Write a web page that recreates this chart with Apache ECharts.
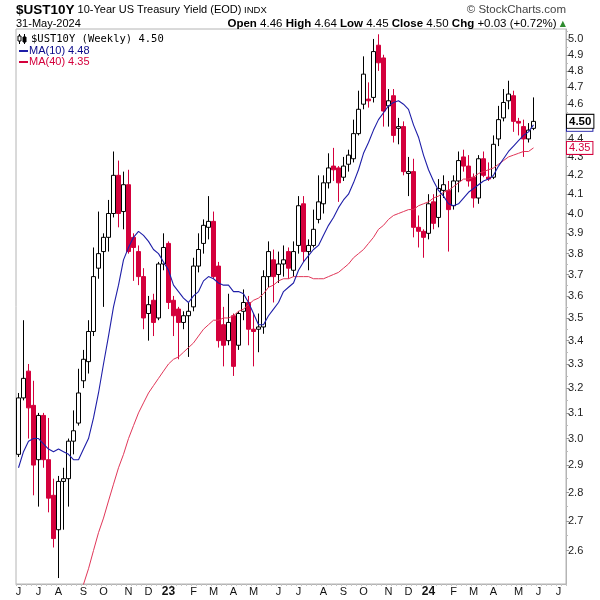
<!DOCTYPE html>
<html><head><meta charset="utf-8">
<script src="https://cdn.jsdelivr.net/npm/echarts@6/dist/echarts.min.js"></script>
<style>html,body{margin:0;padding:0;background:#fff}#c{width:600px;height:600px}</style>
</head><body><div id="c"></div>
<script>
// Weekly candles, first week ending 2022-06-10, last 2024-05-31 (104 weeks), axis runs 6 weeks further
const firstWeek = [2022, 5, 10];
const axisWeeks = 110;

const opens = [2.94,3.16,3.27,3.13,2.92,3.09,2.92,2.79,2.67,2.84, 2.85,2.99,3.06,3.23,3.31,3.44,3.73,3.81,3.88,4.00,
  4.20,4.01,4.15,3.88,3.81,3.69,3.52,3.58,3.50,3.75, 3.85,3.58,3.54,3.48,3.51,3.55,3.74,3.85,3.93,3.96,
  3.74,3.47,3.40,3.51,3.38,3.53,3.57,3.45,3.45,3.46, 3.69,3.77,3.70,3.75,3.81,3.72,3.84,4.05,3.81,3.84,
  3.97,4.05,4.16,4.25,4.24,4.19,4.26,4.29,4.43,4.60, 4.63,4.64,4.96,4.88,4.59,4.65,4.46,4.47,4.21,4.22,
  3.93,3.91,3.90,4.06,3.98,4.12,4.12,4.04,4.17,4.30, 4.25,4.19,4.08,4.29,4.19,4.19,4.40,4.52,4.62,4.65,
  4.50,4.47,4.40,4.46];
const highs = [3.18,3.49,3.30,3.23,3.10,3.10,3.08,2.85,2.86,2.89, 3.00,3.11,3.28,3.36,3.49,3.83,4.01,3.90,4.07,4.33,
  4.28,4.22,4.23,3.90,3.84,3.73,3.60,3.61,3.76,3.90, 3.86,3.60,3.55,3.53,3.57,3.78,3.90,3.97,4.09,4.01,
  3.76,3.55,3.61,3.52,3.53,3.63,3.60,3.52,3.52,3.72, 3.86,3.82,3.81,3.84,3.83,3.86,4.09,4.09,3.87,4.02,
  4.20,4.20,4.32,4.35,4.25,4.30,4.34,4.51,4.68,4.89, 4.73,5.00,5.03,4.90,4.69,4.69,4.52,4.50,4.30,4.29,
  3.99,3.92,4.10,4.10,4.18,4.20,4.17,4.20,4.33,4.34, 4.31,4.21,4.31,4.33,4.27,4.42,4.59,4.69,4.74,4.68,
  4.52,4.51,4.49,4.64];
const lows = [2.93,3.15,3.00,2.79,2.75,2.89,2.73,2.61,2.51,2.67, 2.75,2.94,3.05,3.20,3.26,3.42,3.68,3.55,3.81,3.98,
  3.93,3.92,3.80,3.67,3.65,3.45,3.40,3.42,3.49,3.72, 3.54,3.42,3.32,3.45,3.33,3.53,3.71,3.80,3.87,3.68,
  3.37,3.29,3.38,3.25,3.36,3.49,3.38,3.29,3.35,3.43, 3.64,3.57,3.66,3.69,3.68,3.69,3.80,3.76,3.72,3.83,
  3.95,4.00,4.13,4.17,4.06,4.17,4.22,4.27,4.42,4.57, 4.58,4.61,4.80,4.47,4.47,4.38,4.37,4.20,4.09,3.88,
  3.83,3.78,3.87,3.92,3.93,4.08,3.81,4.02,4.11,4.22, 4.14,4.03,4.05,4.19,4.17,4.18,4.36,4.50,4.57,4.44,
  4.42,4.30,4.38,4.45];
const closes = [3.16,3.24,3.12,2.90,3.09,2.92,2.78,2.64,2.84,2.85, 2.99,3.03,3.18,3.32,3.44,3.69,3.80,3.88,4.00,4.20,
  4.00,4.15,3.81,3.83,3.69,3.50,3.56,3.48,3.75,3.83, 3.57,3.51,3.48,3.51,3.53,3.74,3.82,3.94,3.96,3.69,
  3.40,3.38,3.48,3.29,3.52,3.57,3.45,3.44,3.46,3.69, 3.81,3.69,3.75,3.77,3.73,3.81,4.04,3.81,3.84,3.92,
  4.06,4.16,4.24,4.23,4.16,4.25,4.31,4.43,4.57,4.78, 4.62,4.92,4.85,4.56,4.62,4.42,4.47,4.22,4.22,3.93,
  3.91,3.88,4.05,3.95,4.13,4.15,4.02,4.17,4.28,4.25, 4.17,4.08,4.29,4.20,4.18,4.37,4.51,4.61,4.66,4.50,
  4.49,4.40,4.45,4.50];
const ma10 = [2.89,2.95,2.99,3.00,3.00,2.98,2.96,2.95,2.96,2.95, 2.94,2.92,2.92,2.96,3.00,3.08,3.18,3.30,3.42,3.55,
  3.65,3.77,3.83,3.88,3.91,3.89,3.86,3.82,3.80,3.76, 3.72,3.65,3.62,3.59,3.57,3.60,3.62,3.67,3.69,3.68,
  3.66,3.65,3.65,3.62,3.62,3.61,3.57,3.52,3.47,3.47, 3.51,3.54,3.57,3.62,3.64,3.66,3.72,3.76,3.79,3.82,
  3.84,3.89,3.94,3.98,4.03,4.07,4.10,4.16,4.23,4.32, 4.38,4.45,4.51,4.55,4.59,4.61,4.62,4.60,4.57,4.48,
  4.41,4.31,4.23,4.17,4.12,4.09,4.05,4.04,4.05,4.08, 4.11,4.13,4.15,4.17,4.18,4.20,4.25,4.29,4.33,4.36,
  4.39,4.42,4.44,4.48];
const ma40 = [null,null,null,null,null,null,null,null,null,null, null,2.38,2.43,2.49,2.54,2.60,2.66,2.71,2.77,2.83,
  2.89,2.94,3.00,3.05,3.10,3.14,3.18,3.21,3.24,3.27, 3.30,3.32,3.33,3.35,3.37,3.39,3.42,3.45,3.47,3.49,
  3.49,3.50,3.50,3.51,3.53,3.54,3.56,3.58,3.59,3.61, 3.64,3.65,3.67,3.68,3.68,3.69,3.69,3.69,3.69,3.68,
  3.68,3.68,3.69,3.70,3.71,3.73,3.75,3.78,3.80,3.82, 3.85,3.88,3.92,3.94,3.97,3.99,4.00,4.01,4.02,4.02,
  4.04,4.05,4.06,4.08,4.09,4.11,4.12,4.14,4.16,4.18, 4.18,4.19,4.21,4.22,4.23,4.24,4.26,4.28,4.30,4.31,
  4.32,4.33,4.33,4.35];

const yTickLabels = [2.6,2.7,2.8,2.9,3.0,3.1,3.2,3.3,3.4,3.5,3.6,3.7,3.8,3.9,4.0,4.1,4.2,4.3,4.4,4.5,4.6,4.7,4.8,4.9,5.0];
const yHiddenLabel = 4.5; // covered by the last-price box
const yRange = [2.491, 5.064];
const monthLabels = [
  ['2022-06-10','J'],['2022-07-08','J'],['2022-08-05','A'],['2022-09-09','S'],['2022-10-07','O'],['2022-11-11','N'],['2022-12-09','D'],
  ['2023-01-06','23'],['2023-02-10','F'],['2023-03-10','M'],['2023-04-07','A'],['2023-05-05','M'],['2023-06-09','J'],['2023-07-07','J'],
  ['2023-08-11','A'],['2023-09-08','S'],['2023-10-06','O'],['2023-11-10','N'],['2023-12-08','D'],
  ['2024-01-05','24'],['2024-02-09','F'],['2024-03-08','M'],['2024-04-05','A'],['2024-05-10','M'],['2024-06-07','J'],['2024-07-05','J']
];
const lastClose = 4.50, lastMa10 = 4.48, lastMa40 = 4.35;

const RED = '#d4003c', BLUE = '#1e1ea8', MA40C = '#e03658', FRAME = '#b4b4b4';
const L = v => Math.log10(v);

const categories = [];
const t0 = Date.UTC(firstWeek[0], firstWeek[1], firstWeek[2]);
for (let i = 0; i < axisWeeks; i++) categories.push(new Date(t0 + i * 7 * 86400000).toISOString().slice(0, 10));
const labelMap = {};
monthLabels.forEach(([d, t]) => { labelMap[d] = t; });

const candleData = opens.map((o, i) => [L(o), L(closes[i]), L(lows[i]), L(highs[i])]);
const ma10Data = ma10.map(v => v == null ? '-' : L(v));
const ma40Data = ma40.map(v => v == null ? '-' : L(v));
const yMinor = yTickLabels.map(v => +(v + 0.05).toFixed(2)).filter(v => v < yRange[1]);

const baseY = { type: 'value', position: 'right', min: L(yRange[0]), max: L(yRange[1]), scale: true,
  splitLine: { show: false }, axisLine: { show: false }, axisTick: { show: false } };
const FONT = 'Liberation Sans, Arial, sans-serif';

const chart = echarts.init(document.getElementById('c'), null, { renderer: 'canvas' });
chart.setOption({
  animation: false,
  backgroundColor: '#fff',
  grid: { left: 16, top: 29, width: 550, height: 555, show: true, borderColor: FRAME, borderWidth: 1,
    containLabel: false, outerBoundsMode: 'none' },
  xAxis: {
    type: 'category', data: categories, boundaryGap: true,
    axisLine: { lineStyle: { color: FRAME } },
    axisTick: { show: true, interval: 0, length: 2, lineStyle: { color: '#c4c4c4' } },
    axisLabel: {
      interval: (idx, val) => labelMap[val] !== undefined,
      formatter: val => { const t = labelMap[val] || ''; return t.length === 2 ? '{y|' + t + '}' : t; },
      fontSize: 11, fontFamily: FONT, color: '#111', margin: 2,
      rich: { y: { fontSize: 12, fontWeight: 'bold', fontFamily: FONT, color: '#111' } }
    },
    splitLine: { show: false }
  },
  yAxis: [
    Object.assign({}, baseY, {
      axisLine: { show: true, lineStyle: { color: FRAME } },
      axisTick: { show: true, length: 3, lineStyle: { color: '#999' }, customValues: yTickLabels.map(L) },
      axisLabel: { customValues: yTickLabels.filter(v => v !== yHiddenLabel).map(L),
        formatter: v => Math.pow(10, v).toFixed(1), fontSize: 11, fontFamily: FONT, color: '#222', margin: 2 }
    }),
    Object.assign({}, baseY, {
      axisTick: { show: true, length: 2, lineStyle: { color: '#bbb' }, customValues: yMinor.map(L) },
      axisLabel: { show: false }
    }),
    Object.assign({}, baseY, { z: 3,
      axisLabel: { customValues: [L(lastMa10)], formatter: () => lastMa10.toFixed(2), fontSize: 11, fontFamily: FONT,
        color: BLUE, backgroundColor: '#fff', borderColor: BLUE, borderWidth: 1, padding: [1, 2, 0, 2], margin: 1 }
    }),
    Object.assign({}, baseY, { z: 4,
      axisLabel: { customValues: [L(lastClose)], formatter: () => lastClose.toFixed(2), fontSize: 11.5, fontWeight: 'bold', fontFamily: FONT,
        color: '#000', backgroundColor: '#fff', borderColor: '#000', borderWidth: 1, padding: [1, 2, 0, 2], margin: 1 }
    }),
    Object.assign({}, baseY, { z: 4,
      axisLabel: { customValues: [L(lastMa40)], formatter: () => lastMa40.toFixed(2), fontSize: 11, fontFamily: FONT,
        color: RED, backgroundColor: '#fff', borderColor: RED, borderWidth: 1, padding: [1, 2, 0, 2], margin: 1 }
    })
  ],
  series: [
    { type: 'candlestick', data: candleData, barWidth: 5, yAxisIndex: 0,
      itemStyle: { color: '#fff', color0: RED, borderColor: '#000', borderColor0: RED, borderWidth: 1 } },
    { type: 'line', data: ma40Data, yAxisIndex: 0, symbol: 'none', clip: true, z: 3,
      lineStyle: { color: MA40C, width: 1 } },
    { type: 'line', data: ma10Data, yAxisIndex: 0, symbol: 'none', clip: true, z: 3,
      lineStyle: { color: BLUE, width: 1.1 } }
  ],
  graphic: [
    { type: 'text', x: 16, y: 10, style: { text: '{a|$UST10Y}{b| 10-Year US Treasury Yield (EOD)}{c| INDX}',
      verticalAlign: 'middle', rich: {
        a: { fontSize: 13.5, fontWeight: 'bold', fontFamily: FONT, fill: '#000' },
        b: { fontSize: 11, fontFamily: FONT, fill: '#000' },
        c: { fontSize: 9.5, fontFamily: FONT, fill: '#000' } } } },
    { type: 'text', x: 566, y: 10, style: { text: '© StockCharts.com', align: 'right', verticalAlign: 'middle',
      fontSize: 11.5, fontFamily: FONT, fill: '#444' } },
    { type: 'text', x: 16, y: 24, style: { text: '31-May-2024', verticalAlign: 'middle', fontSize: 11, fontFamily: FONT, fill: '#000' } },
    { type: 'text', x: 566, y: 24, style: {
      text: '{b|Open} 4.46 {b|High} 4.64 {b|Low} 4.45 {b|Close} 4.50 {b|Chg} +0.03 (+0.72%) {g|▲}',
      align: 'right', verticalAlign: 'middle', fontSize: 11.5, fontFamily: FONT, fill: '#000',
      rich: { b: { fontSize: 11.5, fontWeight: 'bold', fontFamily: FONT, fill: '#000' },
              g: { fontSize: 8, fontFamily: 'DejaVu Sans', fill: '#2e8b2e' } } } },
    // legend icons
    { type: 'line', shape: { x1: 19.5, y1: 34, x2: 19.5, y2: 44 }, style: { stroke: '#000', lineWidth: 1 } },
    { type: 'rect', shape: { x: 18, y: 36, width: 3, height: 5 }, style: { fill: '#fff', stroke: '#000', lineWidth: 1 } },
    { type: 'line', shape: { x1: 24.5, y1: 34, x2: 24.5, y2: 44 }, style: { stroke: '#000', lineWidth: 1 } },
    { type: 'rect', shape: { x: 23, y: 37, width: 3, height: 5 }, style: { fill: '#000', stroke: '#000', lineWidth: 1 } },
    { type: 'text', x: 31, y: 39, style: { text: '$UST10Y (Weekly) 4.50', verticalAlign: 'middle', fontSize: 10.5,
      fontFamily: 'DejaVu Sans Mono, monospace', fill: '#000' } },
    { type: 'rect', shape: { x: 19, y: 50, width: 9, height: 2 }, style: { fill: BLUE } },
    { type: 'text', x: 29, y: 51, style: { text: 'MA(10) 4.48', verticalAlign: 'middle', fontSize: 11, fontFamily: FONT, fill: '#0a0a8a' } },
    { type: 'rect', shape: { x: 19, y: 61, width: 9, height: 2 }, style: { fill: RED } },
    { type: 'text', x: 29, y: 62, style: { text: 'MA(40) 4.35', verticalAlign: 'middle', fontSize: 11, fontFamily: FONT, fill: RED } }
  ]
});
</script></body></html>
